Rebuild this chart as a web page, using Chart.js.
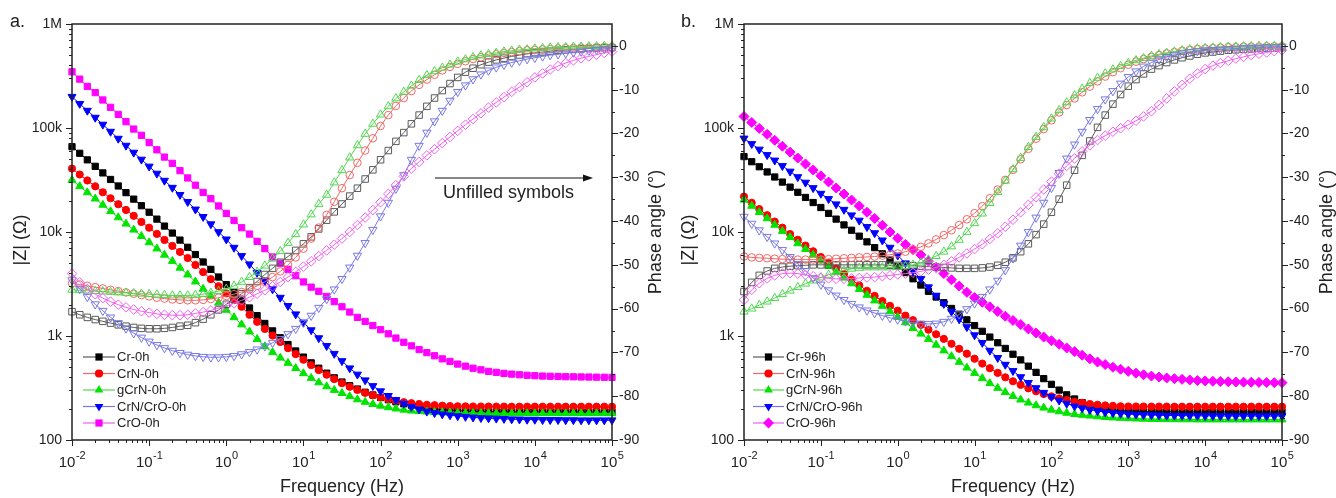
<!DOCTYPE html>
<html>
<head>
<meta charset="utf-8">
<title>Bode plots 0h / 96h</title>
<script src="https://cdn.jsdelivr.net/npm/chart.js@4.4.1/dist/chart.umd.min.js"></script>
<style>
  html, body { margin: 0; padding: 0; background: #fff; }
  #wrap { position: relative; width: 1336px; height: 498px; }
  canvas { position: absolute; top: 0; }
  #panelA { left: 0; }
  #panelB { left: 668px; }
</style>
</head>
<body>
<div id="wrap">
  <canvas id="panelA" width="668" height="498"></canvas>
  <canvas id="panelB" width="668" height="498"></canvas>
</div>
<script>
// frequencies, 10 points per decade
const freqHz = [
  0.01, 0.0126, 0.0158, 0.02, 0.0251, 0.0316, 0.0398, 0.0501, 0.0631, 0.0794,
  0.1, 0.126, 0.158, 0.2, 0.251, 0.316, 0.398, 0.501, 0.631, 0.794,
  1, 1.26, 1.58, 2, 2.51, 3.16, 3.98, 5.01, 6.31, 7.94,
  10, 12.6, 15.8, 20, 25.1, 31.6, 39.8, 50.1, 63.1, 79.4,
  100, 126, 158, 200, 251, 316, 398, 501, 631, 794,
  1000, 1260, 1580, 2000, 2510, 3160, 3980, 5010, 6310, 7940,
  10000, 12600, 15800, 20000, 25100, 31600, 39800, 50100, 63100, 79400,
  100000
];

const names0h = ["Cr-0h", "CrN-0h", "gCrN-0h", "CrN/CrO-0h", "CrO-0h"];
const names96h = ["Cr-96h", "CrN-96h", "gCrN-96h", "CrN/CrO-96h", "CrO-96h"];

const zTickLabels = ["100", "1k", "10k", "100k", "1M"];
const xTickExponents = ["-2", "-1", "0", "1", "2", "3", "4", "5"];
const phaseTickLabels = ["-90", "-80", "-70", "-60", "-50", "-40", "-30", "-20", "-10", "0"];

// ---- panel a: |Z| (ohm), filled symbols
const zCr0 = [
  66100, 57100, 49400, 42800, 37000, 32000, 27700, 23900, 20700, 17900,
  15500, 13300, 11400, 9770, 8360, 7130, 6070, 5150, 4370, 3690,
  3120, 2630, 2210, 1860, 1570, 1320, 1120, 962, 828, 718,
  627, 552, 490, 439, 396, 361, 333, 309, 288, 271,
  256, 244, 233, 223, 216, 209, 204, 200, 196, 194,
  191, 190, 188, 187.5, 187, 187, 186.5, 186.5, 186.5, 186,
  186, 186, 186, 186, 186, 186, 186, 186, 186, 186,
  186
];
const zCrN0 = [
  40700, 35700, 31300, 27500, 24100, 21100, 18500, 16300, 14300, 12500,
  11000, 9590, 8390, 7350, 6430, 5620, 4820, 4120, 3520, 3010,
  2570, 2210, 1910, 1600, 1370, 1170, 1010, 877, 764, 670,
  592, 525, 470, 424, 385, 352, 325, 303, 284, 269,
  257, 247, 238, 231, 226, 222, 218, 216, 214, 212,
  211, 210.5, 210, 210, 210, 209.5, 209.5, 209, 209, 209,
  209, 209, 209, 209, 209, 209, 209, 209, 209, 209,
  209
];
const zGCrN0 = [
  31600, 27500, 24000, 20900, 18200, 15800, 13800, 12000, 10500, 9120,
  7940, 6920, 6030, 5250, 4520, 3890, 3330, 2840, 2430, 2080,
  1780, 1510, 1290, 1100, 933, 794, 697, 617, 550, 490,
  437, 394, 357, 327, 302, 282, 263, 245, 232, 221,
  213, 206, 200, 195, 191, 189, 187, 185, 184, 183,
  182, 181.5, 181, 181, 180.5, 180.5, 180, 180, 180, 180,
  180, 180, 180, 180, 180, 180, 180, 180, 180, 180,
  180
];
const zCrNCrO0 = [
  200000, 171000, 147000, 126000, 108000, 92300, 79100, 67800, 58100, 49800,
  42700, 36500, 31200, 26700, 22800, 19500, 16500, 14000, 11900, 10000,
  8510, 7080, 5890, 4900, 4070, 3390, 2820, 2340, 1950, 1620,
  1350, 1140, 955, 804, 676, 575, 490, 427, 376, 331,
  295, 266, 243, 224, 209, 197, 188, 182, 177, 173,
  170, 167.5, 165, 163, 162, 161, 160, 158.5, 158, 157,
  157, 156, 156, 156, 155.5, 155.5, 155, 155, 155, 155,
  155
];
const zCrO0 = [
  347000, 295000, 251000, 219000, 186000, 158000, 135000, 115000, 97700, 85100,
  72400, 61700, 52500, 45700, 38900, 33100, 28200, 24000, 20900, 17800,
  15100, 12900, 11000, 9550, 8130, 6920, 5750, 5010, 4370, 3800,
  3310, 2950, 2690, 2400, 2140, 1910, 1700, 1510, 1380, 1260,
  1150, 1050, 955, 871, 804, 741, 692, 646, 603, 569,
  537, 513, 490, 473, 457, 447, 437, 430, 424, 419,
  415, 412, 410, 408, 406, 405, 404, 403, 402, 401,
  400
];

// ---- panel a: phase angle (deg), unfilled symbols
const phCr0 = [
  -60.7, -61.4, -62.0, -62.5, -62.9, -63.3, -63.7, -64.0, -64.3, -64.5,
  -64.6, -64.6, -64.5, -64.3, -64.0, -63.8, -63.2, -62.4, -61.4, -60.3,
  -59.0, -57.9, -56.6, -55.2, -53.8, -52.2, -50.8, -49.4, -48.1, -46.7,
  -45.2, -43.6, -41.8, -39.8, -37.9, -36.1, -34.3, -32.5, -30.4, -28.3,
  -26.0, -23.9, -21.8, -19.8, -17.8, -15.8, -13.8, -11.9, -10.2, -8.6,
  -7.2, -6.0, -5.1, -4.3, -3.7, -3.2, -2.8, -2.4, -2.1, -1.8,
  -1.6, -1.4, -1.2, -1.0, -0.9, -0.8, -0.7, -0.6, -0.5, -0.4,
  -0.4
];
const phCrN0 = [
  -54.2, -54.5, -54.8, -55.1, -55.4, -55.7, -56.0, -56.3, -56.6, -56.9,
  -57.2, -57.5, -57.7, -57.9, -58.0, -58.1, -58.1, -58.0, -57.8, -57.5,
  -57.1, -56.7, -56.2, -55.6, -54.8, -53.9, -52.8, -51.5, -50.0, -48.3,
  -46.3, -44.0, -41.5, -38.6, -35.6, -32.5, -29.5, -26.7, -23.9, -21.1,
  -18.3, -15.8, -13.7, -11.9, -10.3, -8.9, -7.7, -6.6, -5.6, -4.8,
  -4.1, -3.5, -3.0, -2.6, -2.2, -1.9, -1.6, -1.4, -1.2, -1.0,
  -0.9, -0.8, -0.7, -0.6, -0.5, -0.5, -0.4, -0.4, -0.3, -0.3,
  -0.3
];
const phGCrN0 = [
  -55.7, -55.8, -55.9, -56.0, -56.1, -56.2, -56.3, -56.4, -56.5, -56.6,
  -56.7, -56.8, -56.9, -57.0, -57.0, -57.0, -56.9, -56.7, -56.4, -56.0,
  -55.5, -54.8, -53.9, -52.8, -51.6, -50.2, -48.6, -46.9, -45.0, -43.0,
  -40.8, -38.5, -36.1, -34.0, -31.2, -28.4, -25.5, -22.7, -20.1, -17.8,
  -15.7, -13.8, -12.0, -10.5, -9.1, -7.8, -6.7, -5.8, -5.0, -4.3,
  -3.6, -3.1, -2.6, -2.2, -1.9, -1.6, -1.3, -1.1, -0.9, -0.8,
  -0.6, -0.5, -0.4, -0.3, -0.3, -0.2, -0.2, -0.1, -0.1, 0,
  0
];
const phCrNCrO0 = [
  -53.5, -55.5, -57.3, -59.0, -60.5, -62.0, -63.3, -64.5, -65.6, -66.6,
  -67.5, -68.3, -69.0, -69.6, -70.1, -70.5, -70.8, -71.0, -71.1, -71.1,
  -71.0, -70.8, -70.4, -69.9, -69.3, -68.6, -67.8, -66.9, -65.8, -64.6,
  -63.2, -61.6, -59.8, -57.8, -55.6, -53.2, -50.6, -47.9, -45.0, -42.0,
  -38.9, -35.8, -32.6, -29.5, -26.0, -22.8, -19.8, -17.2, -14.8, -12.5,
  -10.5, -9.0, -7.6, -6.5, -5.6, -4.9, -4.3, -3.8, -3.4, -3.0,
  -2.7, -2.4, -2.1, -1.9, -1.7, -1.5, -1.3, -1.1, -0.9, -0.7,
  -0.6
];
const phCrO0 = [
  -52.0, -54.0, -55.5, -56.7, -57.6, -58.4, -59.1, -59.7, -60.2, -60.6,
  -60.9, -61.2, -61.4, -61.5, -61.5, -61.4, -61.1, -60.8, -60.4, -59.9,
  -59.4, -58.8, -58.1, -57.4, -56.6, -55.8, -54.9, -53.9, -52.8, -51.6,
  -50.4, -49.2, -48.0, -46.7, -45.4, -44.0, -42.5, -40.9, -39.2, -37.5,
  -35.7, -33.8, -31.8, -29.8, -28.0, -26.5, -25.0, -23.6, -22.2, -20.8,
  -19.4, -18.0, -16.7, -15.4, -14.1, -12.9, -11.7, -10.5, -9.4, -8.3,
  -7.2, -6.3, -5.4, -4.6, -3.9, -3.3, -2.8, -2.4, -2.0, -1.6,
  -1.3
];

// ---- panel b: |Z| (ohm), filled symbols
const zCr96 = [
  53100, 47400, 42400, 37800, 33800, 30200, 27000, 24100, 21500, 19200,
  17200, 15100, 13300, 11700, 10400, 9120, 8040, 7080, 6170, 5370,
  4680, 4070, 3550, 3090, 2690, 2370, 2090, 1840, 1620, 1430,
  1260, 1110, 977, 861, 759, 668, 589, 513, 447, 389,
  343, 302, 272, 248, 229, 216, 207, 200, 195, 192,
  190, 188, 187.5, 187, 187, 186.5, 186.5, 186, 186, 186,
  186, 186, 186, 186, 186, 186, 186, 186, 186, 186,
  186
];
const zCrN96 = [
  21900, 19100, 16600, 14500, 12600, 11000, 9550, 8410, 7410, 6530,
  5750, 5070, 4470, 3940, 3470, 3070, 2720, 2430, 2170, 1950,
  1750, 1570, 1420, 1280, 1150, 1040, 938, 841, 753, 676,
  605, 543, 490, 442, 401, 367, 339, 314, 294, 277,
  263, 251, 242, 233, 227, 222, 218, 215, 213, 211,
  210, 210, 210, 209.5, 209.5, 209.5, 209, 209, 209, 209,
  209, 209, 209, 209, 209, 209, 209, 209, 209, 209,
  209
];
const zGCrN96 = [
  20400, 17800, 15500, 13500, 11700, 10200, 8910, 7760, 6840, 6030,
  5310, 4680, 4120, 3630, 3200, 2820, 2480, 2190, 1940, 1720,
  1520, 1350, 1190, 1050, 933, 822, 724, 638, 562, 495,
  440, 392, 351, 316, 288, 264, 244, 228, 215, 204,
  195, 188, 182, 177, 174, 171, 168, 166, 164, 162.5,
  161.4, 160.3, 159.6, 158.9, 158.5, 158, 158, 157.5, 157.5, 157,
  157, 157, 157, 157, 157, 157, 157, 157, 157, 157,
  157
];
const zCrNCrO96 = [
  79400, 70300, 62200, 55100, 48800, 43200, 38200, 33800, 29900, 26500,
  23400, 20800, 18500, 16400, 14500, 12900, 11200, 9770, 8320, 7080,
  5960, 5010, 4220, 3550, 2950, 2450, 2040, 1720, 1450, 1220,
  1020, 861, 724, 617, 531, 462, 403, 355, 316, 285,
  260, 240, 224, 211, 202, 195, 190, 185, 182, 179.5,
  177.5, 176, 174.6, 173.8, 173, 172, 172, 171.5, 171, 171,
  170.5, 170.5, 170, 170, 170, 170, 170, 170, 170, 170,
  170
];
const zCrO96 = [
  129000, 113000, 99100, 86900, 76200, 66800, 58600, 51400, 45100, 39500,
  34700, 30300, 26500, 23200, 20300, 17800, 15500, 13500, 11600, 10000,
  8710, 7590, 6760, 6030, 5250, 4570, 3980, 3470, 3020, 2630,
  2340, 2110, 1910, 1720, 1550, 1410, 1290, 1170, 1070, 977,
  902, 832, 767, 708, 653, 603, 562, 531, 501, 479,
  457, 439, 424, 412, 403, 395, 389, 383, 378, 373,
  370, 367, 365, 363, 361, 360, 359, 358, 357, 356,
  356
];

// ---- panel b: phase angle (deg), unfilled symbols
const phCr96 = [
  -56.1, -54.0, -52.4, -51.4, -50.8, -50.5, -50.3, -50.2, -50.1, -50.0,
  -50.0, -50.0, -50.0, -50.0, -50.0, -50.0, -50.0, -50.0, -50.0, -50.1,
  -50.1, -50.2, -50.2, -50.3, -50.4, -50.5, -50.6, -50.7, -50.8, -50.8,
  -50.8, -50.7, -50.5, -50.1, -49.4, -48.4, -47.0, -45.2, -43.1, -40.7,
  -38.0, -35.0, -31.8, -28.4, -25.0, -21.7, -18.6, -15.8, -13.3, -11.1,
  -9.2, -7.7, -6.4, -5.3, -4.5, -3.8, -3.2, -2.7, -2.3, -1.9,
  -1.6, -1.4, -1.2, -1.0, -0.9, -0.8, -0.7, -0.6, -0.5, -0.5,
  -0.4
];
const phCrN96 = [
  -48.1, -48.3, -48.4, -48.5, -48.6, -48.7, -48.8, -48.8, -48.8, -48.8,
  -48.8, -48.7, -48.6, -48.5, -48.4, -48.3, -48.2, -48.1, -47.9, -47.7,
  -47.4, -47.0, -46.5, -45.9, -45.1, -44.2, -43.2, -42.1, -40.9, -39.6,
  -38.2, -36.6, -34.8, -32.8, -30.6, -28.3, -25.9, -23.5, -21.2, -19.0,
  -17.0, -15.2, -13.5, -12.0, -10.6, -9.3, -8.1, -7.0, -6.0, -5.1,
  -4.3, -3.6, -3.0, -2.5, -2.1, -1.7, -1.4, -1.1, -0.9, -0.7,
  -0.6, -0.5, -0.4, -0.3, -0.3, -0.2, -0.2, -0.2, -0.1, -0.1,
  -0.1
];
const phGCrN96 = [
  -60.7, -60.0, -59.2, -58.4, -57.6, -56.7, -55.9, -55.1, -54.3, -53.6,
  -52.9, -52.3, -51.7, -51.2, -50.9, -50.7, -50.6, -50.6, -50.6, -50.6,
  -50.5, -50.3, -50.0, -49.5, -48.8, -48.0, -47.0, -45.8, -44.3, -42.5,
  -40.5, -38.3, -35.9, -33.4, -30.8, -28.2, -25.6, -23.1, -20.8, -18.6,
  -16.6, -14.7, -12.9, -11.3, -9.8, -8.5, -7.3, -6.3, -5.4, -4.6,
  -3.9, -3.3, -2.8, -2.3, -1.9, -1.6, -1.3, -1.0, -0.8, -0.6,
  -0.5, -0.4, -0.3, -0.2, -0.2, -0.1, -0.1, 0, 0, 0,
  0
];
const phCrNCrO96 = [
  -39.0, -40.6, -42.1, -43.6, -45.1, -46.6, -48.2, -49.8, -51.4, -53.0,
  -54.5, -55.8, -57.0, -58.0, -58.9, -59.7, -60.4, -61.0, -61.6, -62.1,
  -62.5, -62.9, -63.2, -63.4, -63.5, -63.4, -63.0, -62.3, -61.3, -60.1,
  -58.8, -57.3, -55.6, -53.6, -51.2, -48.5, -45.6, -42.5, -39.2, -35.8,
  -32.4, -29.0, -25.7, -22.5, -19.6, -16.9, -14.4, -12.2, -10.3, -8.6,
  -7.1, -5.8, -4.7, -3.8, -3.1, -2.5, -2.1, -1.7, -1.4, -1.2,
  -1.0, -0.9, -0.8, -0.7, -0.6, -0.5, -0.4, -0.4, -0.3, -0.3,
  -0.2
];
const phCrO96 = [
  -58.0, -55.7, -54.2, -53.1, -52.4, -52.0, -51.9, -52.0, -52.3, -52.6,
  -52.9, -53.1, -53.2, -53.2, -53.1, -53.0, -52.9, -52.8, -52.6, -52.4,
  -52.2, -52.0, -51.8, -51.5, -51.1, -50.6, -50.0, -49.2, -48.3, -47.4,
  -46.4, -45.3, -44.1, -42.8, -41.3, -39.7, -38.0, -36.3, -34.6, -32.8,
  -31.0, -29.2, -27.4, -25.7, -24.1, -22.7, -21.5, -20.5, -19.6, -18.8,
  -18.0, -17.1, -16.1, -14.9, -13.5, -12.0, -10.4, -8.9, -7.5, -6.3,
  -5.3, -4.5, -3.9, -3.4, -2.9, -2.5, -2.1, -1.8, -1.5, -1.2,
  -1.0
];

// ---- styles
const FONT = '"Liberation Sans", Arial, Helvetica, sans-serif';
const INK = "#222";
Chart.defaults.font.family = FONT;
Chart.defaults.color = INK;

const filledColor = ["#000000", "#ff0000", "#00e400", "#0000ff", "#ff00ff"];
const openColor = ["#5a5a5a", "#f26666", "#50d850", "#7878e4", "#f060f0"];
const filledMarkers = [
  { style: "rect", r: 4.4, rot: 0 },
  { style: "circle", r: 3.6, rot: 0 },
  { style: "triangle", r: 4.6, rot: 0 },
  { style: "triangle", r: 4.6, rot: 180 },
];
const openMarkers = [
  { style: "rect", r: 4.6, rot: 0 },
  { style: "circle", r: 3.8, rot: 0 },
  { style: "triangle", r: 4.8, rot: 0 },
  { style: "triangle", r: 4.8, rot: 180 },
  { style: "rectRot", r: 4.8, rot: 0 },
];

function pts(values) {
  return freqHz.map((f, i) => ({ x: f, y: values[i] }));
}

function isDecade(v) {
  const e = Math.log10(v);
  return Math.abs(e - Math.round(e)) < 1e-6;
}

// ticks at 1..9 x 10^n only
function decadeTicks(lo, hi) {
  const out = [];
  for (let e = lo; e <= hi; e++) {
    for (let m = 1; m <= 9; m++) {
      if (e === hi && m > 1) break;
      out.push({ value: m * Math.pow(10, e), major: m === 1 });
    }
  }
  return out;
}

function makeDatasets(zSet, phSet, names, lastMarker) {
  const ds = [];
  zSet.forEach((vals, k) => {
    const m = k === 4 ? lastMarker : filledMarkers[k];
    ds.push({
      label: names[k],
      data: pts(vals),
      yAxisID: "yZ",
      borderColor: filledColor[k],
      backgroundColor: filledColor[k],
      pointBackgroundColor: filledColor[k],
      pointBorderColor: filledColor[k],
      pointBorderWidth: 1,
      pointStyle: m.style,
      pointRadius: m.r,
      pointRotation: m.rot,
      borderWidth: 1,
      order: 10 - k,
      clip: false,
    });
  });
  phSet.forEach((vals, k) => {
    const m = openMarkers[k];
    ds.push({
      label: names[k] + " (phase)",
      data: pts(vals),
      yAxisID: "yP",
      borderColor: openColor[k],
      backgroundColor: openColor[k],
      pointBackgroundColor: "rgba(255,255,255,0)",
      pointBorderColor: openColor[k],
      pointBorderWidth: 1,
      pointStyle: m.style,
      pointRadius: m.r,
      pointRotation: m.rot,
      borderWidth: 1,
      order: 5 - k,
      clip: false,
    });
  });
  return ds;
}

function drawMarker(ctx, m, x, y, color) {
  ctx.beginPath();
  if (m.style === "circle") {
    ctx.arc(x, y, m.r + 0.5, 0, Math.PI * 2);
  } else if (m.style === "rect") {
    const s = m.r * Math.SQRT1_2 + 0.5;
    ctx.rect(x - s, y - s, 2 * s, 2 * s);
  } else if (m.style === "rectRot") {
    const r = m.r + 0.5;
    ctx.moveTo(x - r, y); ctx.lineTo(x, y - r); ctx.lineTo(x + r, y); ctx.lineTo(x, y + r);
    ctx.closePath();
  } else {
    const d = m.rot ? -1 : 1, r = m.r + 0.5;
    ctx.moveTo(x, y - d * r);
    ctx.lineTo(x + r * 0.866, y + d * r * 0.5);
    ctx.lineTo(x - r * 0.866, y + d * r * 0.5);
    ctx.closePath();
  }
  ctx.fillStyle = color;
  ctx.fill();
}

const panelDeco = {
  id: "panelDeco",
  afterDraw(chart, args, o) {
    const { ctx, chartArea: a, scales } = chart;
    ctx.save();

    // frame
    ctx.strokeStyle = INK;
    ctx.lineWidth = 1.5;
    ctx.strokeRect(a.left, a.top, a.right - a.left, a.bottom - a.top);

    // tick marks, all outside
    ctx.lineWidth = 1;
    ctx.beginPath();
    scales.x.ticks.forEach((t) => {
      const px = Math.round(scales.x.getPixelForValue(t.value)) + 0.5;
      const len = isDecade(t.value) ? 6 : 3;
      ctx.moveTo(px, a.bottom); ctx.lineTo(px, a.bottom + len);
    });
    scales.yZ.ticks.forEach((t) => {
      const py = Math.round(scales.yZ.getPixelForValue(t.value)) + 0.5;
      const len = isDecade(t.value) ? 6 : 3;
      ctx.moveTo(a.left, py); ctx.lineTo(a.left - len, py);
    });
    scales.yP.ticks.forEach((t) => {
      if (t.value > 0) return;
      const py = Math.round(scales.yP.getPixelForValue(t.value)) + 0.5;
      const len = t.value % 10 === 0 ? 6 : 3;
      ctx.moveTo(a.right, py); ctx.lineTo(a.right + len, py);
    });
    ctx.stroke();

    // x tick labels 10^n
    ctx.fillStyle = INK;
    ctx.textAlign = "left";
    ctx.textBaseline = "alphabetic";
    const decades = scales.x.ticks.filter((t) => isDecade(t.value));
    decades.forEach((t, i) => {
      const exp = xTickExponents[i];
      ctx.font = "15px " + FONT;
      const wb = ctx.measureText("10").width;
      ctx.font = "11px " + FONT;
      const we = ctx.measureText(exp).width;
      const x0 = scales.x.getPixelForValue(t.value) - (wb + we) / 2;
      ctx.font = "15px " + FONT;
      ctx.fillText("10", x0, 467);
      ctx.font = "11px " + FONT;
      ctx.fillText(exp, x0 + wb + 0.5, 459);
    });

    // axis titles
    ctx.font = "18px " + FONT;
    ctx.textAlign = "center";
    ctx.fillText("Frequency (Hz)", (a.left + a.right) / 2, 492);
    ctx.textBaseline = "middle";
    ctx.save();
    ctx.translate(o.leftTitleX, 240);
    ctx.rotate(-Math.PI / 2);
    ctx.fillText("|Z| (\u03A9)", 0, 0);
    ctx.restore();
    ctx.save();
    ctx.translate(o.rightTitleX, 232);
    ctx.rotate(-Math.PI / 2);
    ctx.fillText("Phase angle (\u00B0)", 0, 0);
    ctx.restore();

    // panel letter
    ctx.textAlign = "left";
    ctx.textBaseline = "alphabetic";
    ctx.fillText(o.letter, o.letterX, 27);

    // legend
    ctx.font = "13px " + FONT;
    ctx.textBaseline = "middle";
    o.names.forEach((name, k) => {
      const y = 357 + k * 16.5;
      ctx.strokeStyle = openColor[k];
      ctx.lineWidth = 1.2;
      ctx.beginPath();
      ctx.moveTo(a.left + o.lgX0, y); ctx.lineTo(a.left + o.lgX1, y);
      ctx.stroke();
      const m = k === 4 ? o.lastMarker : filledMarkers[k];
      drawMarker(ctx, m, a.left + (o.lgX0 + o.lgX1) / 2, y, filledColor[k]);
      ctx.fillStyle = INK;
      ctx.fillText(name, a.left + o.lgX1 + 2, y + 0.5);
    });

    // note with arrow
    if (o.note) {
      ctx.strokeStyle = "#111";
      ctx.lineWidth = 1.2;
      ctx.beginPath();
      ctx.moveTo(435, 178); ctx.lineTo(585, 178);
      ctx.stroke();
      ctx.fillStyle = "#111";
      ctx.beginPath();
      ctx.moveTo(593, 178); ctx.lineTo(583, 174.5); ctx.lineTo(583, 181.5);
      ctx.closePath();
      ctx.fill();
      ctx.font = "18px " + FONT;
      ctx.textBaseline = "alphabetic";
      ctx.fillStyle = INK;
      ctx.fillText("Unfilled symbols", 443, 198);
    }
    ctx.restore();
  },
};

function buildPanel(id, zSet, phSet, names, cfg) {
  return new Chart(document.getElementById(id), {
    type: "line",
    data: { datasets: makeDatasets(zSet, phSet, names, cfg.lastMarker) },
    plugins: [panelDeco],
    options: {
      responsive: false,
      animation: false,
      events: [],
      layout: { padding: { top: 24, left: 0, right: 0, bottom: 0 } },
      plugins: {
        legend: { display: false },
        tooltip: { enabled: false },
        panelDeco: {
          letter: cfg.letter, letterX: cfg.letterX, names: names,
          leftTitleX: cfg.leftTitleX, rightTitleX: cfg.rightTitleX,
          lgX0: cfg.lgX0, lgX1: cfg.lgX1, lastMarker: cfg.lastMarker, note: cfg.note,
        },
      },
      scales: {
        x: {
          type: "logarithmic", position: "bottom", min: 0.01, max: 1e5,
          grid: { display: false, drawTicks: false }, border: { display: false },
          ticks: { display: false },
          afterBuildTicks: (s) => { s.ticks = decadeTicks(-2, 5); },
          afterFit: (s) => { s.height = 58; },
        },
        yZ: {
          type: "logarithmic", position: "left", min: 100, max: 1e6,
          grid: { display: false, drawTicks: false }, border: { display: false },
          ticks: {
            autoSkip: false, padding: 10, font: { size: 14 }, color: INK,
            callback: (v) => (isDecade(v) ? zTickLabels[Math.round(Math.log10(v)) - 2] : ""),
          },
          afterBuildTicks: (s) => { s.ticks = decadeTicks(2, 6); },
          afterFit: (s) => { s.width = cfg.leftW; },
        },
        yP: {
          type: "linear", position: "right", min: -90, max: 5,
          grid: { display: false, drawTicks: false }, border: { display: false },
          ticks: {
            stepSize: 5, autoSkip: false, padding: 7, font: { size: 14 }, color: INK,
            callback: (v) => (v <= 0 && v % 10 === 0 ? phaseTickLabels[(v + 90) / 10] : ""),
          },
          afterFit: (s) => { s.width = cfg.rightW; },
        },
      },
    },
  });
}

buildPanel("panelA",
  [zCr0, zCrN0, zGCrN0, zCrNCrO0, zCrO0],
  [phCr0, phCrN0, phGCrN0, phCrNCrO0, phCrO0],
  names0h,
  { letter: "a.", letterX: 10, leftW: 72, rightW: 56, leftTitleX: 21, rightTitleX: 656,
    lgX0: 11, lgX1: 43, lastMarker: { style: "rect", r: 4.4, rot: 0 }, note: true });

buildPanel("panelB",
  [zCr96, zCrN96, zGCrN96, zCrNCrO96, zCrO96],
  [phCr96, phCrN96, phGCrN96, phCrNCrO96, phCrO96],
  names96h,
  { letter: "b.", letterX: 13, leftW: 76, rightW: 54, leftTitleX: 21, rightTitleX: 659,
    lgX0: 9, lgX1: 40, lastMarker: { style: "rectRot", r: 5, rot: 0 }, note: false });
</script>
</body>
</html>
